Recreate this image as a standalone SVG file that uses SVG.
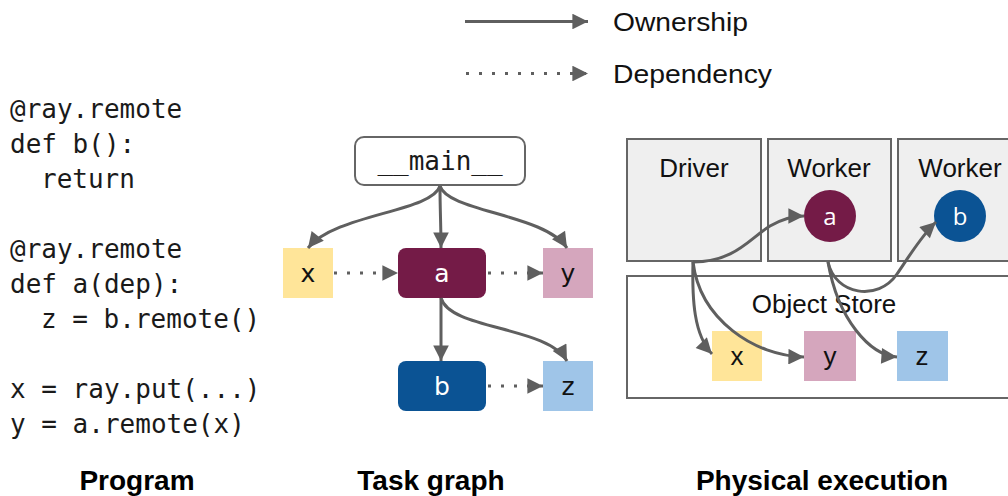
<svg xmlns="http://www.w3.org/2000/svg" width="1008" height="496" viewBox="0 0 1008 496">
<defs>
<marker id="ah" viewBox="0 0 10 10" refX="10" refY="5" markerWidth="7" markerHeight="5.2" markerUnits="strokeWidth" orient="auto">
<path d="M0,0 L10,5 L0,10 Z" fill="#5f5f5f"/>
</marker>
<style>
.code{font-family:"DejaVu Sans Mono","Liberation Mono",monospace;font-size:26px;fill:#1a1a1a}
.sans{font-family:"Liberation Sans",Arial,sans-serif;fill:#111}
.lbl{font-family:"Liberation Sans",Arial,sans-serif;font-size:28px;font-weight:bold;fill:#000;text-anchor:middle}
.own{fill:none;stroke:#5f5f5f;stroke-width:3;marker-end:url(#ah)}
.dep{fill:none;stroke:#5f5f5f;stroke-width:3;stroke-dasharray:3 10;marker-end:url(#ah)}
.box{fill:#efefef;stroke:#666;stroke-width:2}
.tl{font-family:"DejaVu Sans",sans-serif;font-size:25px;text-anchor:middle}
.pl{font-family:"Liberation Sans",Arial,sans-serif;font-size:26px;text-anchor:middle;fill:#111}
</style>
</defs>
<rect width="1008" height="496" fill="#fff"/>

<g id="legend">
<path class="own" d="M465,21.5 L588,21.5"/>
<path class="dep" d="M466,73.5 L588,73.5"/>
<text class="sans" x="613" y="31" font-size="26" textLength="135" lengthAdjust="spacingAndGlyphs">Ownership</text>
<text class="sans" x="613" y="83" font-size="26" textLength="159" lengthAdjust="spacingAndGlyphs">Dependency</text>
</g>

<g id="program">
<text class="code" x="10" y="118">@ray.remote</text>
<text class="code" x="10" y="153">def b():</text>
<text class="code" x="41" y="188">return</text>
<text class="code" x="10" y="258">@ray.remote</text>
<text class="code" x="10" y="293">def a(dep):</text>
<text class="code" x="41" y="328">z = b.remote()</text>
<text class="code" x="10" y="398">x = ray.put(...)</text>
<text class="code" x="10" y="433">y = a.remote(x)</text>
</g>

<g id="task-main">
<rect x="355" y="137" width="170" height="48" rx="9" fill="#fff" stroke="#666" stroke-width="2"/>
<text class="code" x="440" y="170" text-anchor="middle">__main__</text>
</g>
<g id="task-x">
<rect x="283" y="248" width="50" height="50" fill="#ffe599"/>
<text class="tl" x="308" y="282" fill="#111">x</text>
</g>
<g id="task-a">
<rect x="398" y="248" width="88" height="50" rx="8" fill="#741b47"/>
<text class="tl" x="442" y="282" fill="#fff">a</text>
</g>
<g id="task-y">
<rect x="543" y="248" width="50" height="50" fill="#d5a6bd"/>
<text class="tl" x="568" y="282" fill="#111">y</text>
</g>
<g id="task-b">
<rect x="398" y="361" width="88" height="50" rx="8" fill="#0b5394"/>
<text class="tl" x="442" y="395" fill="#fff">b</text>
</g>
<g id="task-z">
<rect x="543" y="361" width="50" height="50" fill="#9fc5e8"/>
<text class="tl" x="568" y="395" fill="#111">z</text>
</g>

<g id="driver">
<rect class="box" x="627" y="139" width="134" height="122"/>
<text class="pl" x="694" y="177">Driver</text>
</g>
<g id="worker1">
<rect class="box" x="768" y="139" width="123" height="122"/>
<text class="pl" x="829" y="177">Worker</text>
<circle cx="830" cy="216" r="26" fill="#741b47"/>
<text x="830" y="225" font-family="'Open Sans','DejaVu Sans',sans-serif" font-size="24" fill="#fff" text-anchor="middle">a</text>
</g>
<g id="worker2">
<rect class="box" x="898" y="139" width="130" height="122"/>
<text class="pl" x="960" y="177">Worker</text>
<circle cx="960" cy="216" r="26" fill="#0b5394"/>
<text x="960" y="225" font-family="'Open Sans','DejaVu Sans',sans-serif" font-size="24" fill="#fff" text-anchor="middle">b</text>
</g>
<g id="object-store">
<rect x="627" y="276" width="400" height="122" fill="#fff" stroke="#666" stroke-width="2"/>
<text class="pl" x="824" y="313" font-size="27">Object Store</text>
</g>
<g id="store-x">
<rect x="712" y="331" width="50" height="50" fill="#ffe599"/>
<text class="pl" x="737" y="365">x</text>
</g>
<g id="store-y">
<rect x="804" y="331" width="52" height="50" fill="#d5a6bd"/>
<text class="pl" x="830" y="365">y</text>
</g>
<g id="store-z">
<rect x="897" y="331" width="51" height="50" fill="#9fc5e8"/>
<text class="pl" x="922" y="365">z</text>
</g>

<g id="connectors">
<path class="own" d="M440,186 C432,212 335,214 308,248"/>
<path class="own" d="M440,186 C440,210 441,225 441,248"/>
<path class="own" d="M440,186 C448,212 545,214 567,248"/>
<path class="own" d="M441,298 L441,361"/>
<path class="own" d="M441,298 C450,330 548,326 567,361"/>
<path class="dep" d="M334,273 L398,273"/>
<path class="dep" d="M488,273 L543,273"/>
<path class="dep" d="M488,386 L543,386"/>

<path class="own" d="M693,262 C735,262 750,238 770,226 C784,218 794,216 804,216"/>
<path class="own" d="M693,262 C692,300 694,335 712,354"/>
<path class="own" d="M693,262 C700,320 755,356 804,357"/>
<path class="own" d="M828,262 C838,320 870,355 897,357"/>
<path class="own" d="M828,262 C835,295 878,302 897,274 C910,255 922,235 936,222"/>
</g>

<g id="labels">
<text class="lbl" x="137" y="490">Program</text>
<text class="lbl" x="431" y="490">Task graph</text>
<text class="lbl" x="822" y="490">Physical execution</text>
</g>
</svg>
